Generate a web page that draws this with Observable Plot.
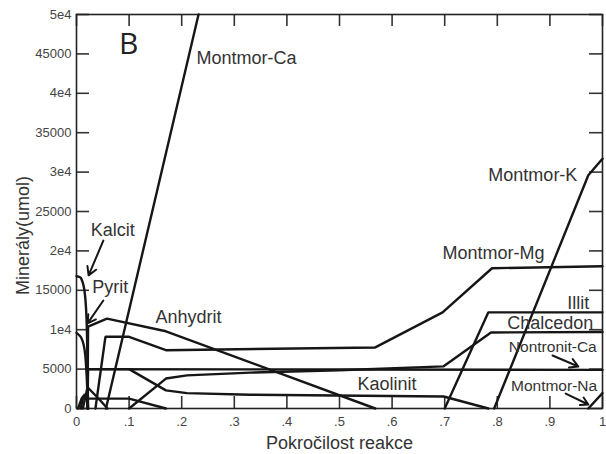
<!DOCTYPE html>
<html>
<head>
<meta charset="utf-8">
<script src="https://cdn.jsdelivr.net/npm/d3@7"></script>
<script src="https://cdn.jsdelivr.net/npm/@observablehq/plot@0.6"></script>
<style>
  html, body { margin: 0; padding: 0; background: #fff; }
  #chart svg { display: block; }
</style>
</head>
<body>
<div id="chart"></div>
<script>
// ---- axis ticks ----
const xTicks = [0, 0.1, 0.2, 0.3, 0.4, 0.5, 0.6, 0.7, 0.8, 0.9, 1];
const xTickLabels = ["0", ".1", ".2", ".3", ".4", ".5", ".6", ".7", ".8", ".9", "1"];
const yTicks = [0, 5000, 10000, 15000, 20000, 25000, 30000, 35000, 40000, 45000, 50000];
const yTickLabels = ["0", "5000", "1e4", "15000", "2e4", "25000", "3e4", "35000", "4e4", "45000", "5e4"];
const xTitle = "Pokročilost reakce";
const yTitle = "Minerály(umol)";
const panelLetter = "B";

// ---- series: [reaction progress, amount umol] ----
const montmorCa = [[0.056, 0], [0.232, 50000]];
const kalcit = [[0, 16800], [0.008, 16600], [0.015, 15000], [0.019, 11500], [0.021, 5000], [0.022, 0]];
const pyrit = [[0, 9600], [0.008, 9100], [0.015, 7600], [0.019, 4500], [0.021, 1500], [0.022, 0]];
const anhydrit = [[0.021, 0], [0.022, 10400], [0.058, 11400], [0.17, 9800], [0.568, 0]];
const montmorMg = [[0.036, 0], [0.055, 9100], [0.1, 9100], [0.17, 7400], [0.568, 7750], [0.696, 12200], [0.79, 17800], [1, 18050]];
const nontronitCa = [[0.021, 0], [0.022, 5000], [0.5, 4950], [1, 4900]];
const kaolinit = [[0.022, 5000], [0.1, 5000], [0.17, 2300], [0.21, 1950], [0.33, 1750], [0.698, 1520], [0.783, 0]];
const chalcedon = [[0.1, 0], [0.17, 3800], [0.21, 4200], [0.33, 4550], [0.5, 4850], [0.698, 5350], [0.788, 9650], [1, 9700]];
const illit = [[0.7, 0], [0.783, 12200], [1, 12200]];
const montmorK = [[0.794, 0], [0.973, 29600], [1, 31700]];
const montmorNa = [[0.973, 0], [1, 1950]];
const smallA = [[0.003, 0], [0.01, 1300], [0.016, 1800], [0.02, 1000], [0.022, 0]];
const smallB = [[0.012, 0], [0.021, 2700], [0.04, 1400], [0.059, 0]];
const smallC = [[0.008, 0], [0.012, 1250], [0.1, 1250], [0.17, 0]];

const seriesNames = ["Montmor-Ca", "Kalcit", "Pyrit", "Anhydrit", "Montmor-Mg", "Nontronit-Ca", "Kaolinit", "Chalcedon", "Illit", "Montmor-K", "Montmor-Na", "minor-a", "minor-b", "minor-c"];
const seriesPoints = [montmorCa, kalcit, pyrit, anhydrit, montmorMg, nontronitCa, kaolinit, chalcedon, illit, montmorK, montmorNa, smallA, smallB, smallC];
const curvedSeries = ["Kalcit", "Pyrit"];

// ---- annotation labels (data coordinates) ----
const labelTexts = ["Montmor-Ca", "Kalcit", "Pyrit", "Anhydrit", "Montmor-K", "Montmor-Mg", "Illit", "Chalcedon", "Nontronit-Ca", "Kaolinit", "Montmor-Na"];
const labelX = [0.228, 0.027, 0.030, 0.150, 0.783, 0.696, 0.933, 0.819, 0.822, 0.534, 0.826];
const labelY = [44400, 22600, 15350, 11550, 29570, 19670, 13320, 10790, 7740, 3050, 2790];
const letterX = [0.099];
const letterY = [46200];

// ---- arrows ----
const arrowX1 = [0.051, 0.051, 0.905, 0.930];
const arrowY1 = [21300, 13700, 6730, 1900];
const arrowX2 = [0.023, 0.021, 0.954, 0.973];
const arrowY2 = [16900, 10800, 5330, 510];

// ---- build tables ----
const rows = [];
seriesNames.forEach((name, i) => {
  seriesPoints[i].forEach(([x, y]) => rows.push({series: name, x, y}));
});
const straightRows = rows.filter(d => !curvedSeries.includes(d.series));
const curvedRows = rows.filter(d => curvedSeries.includes(d.series));
const labels = labelTexts.map((t, i) => ({t, x: labelX[i], y: labelY[i]}));
const arrows = arrowX1.map((_, i) => ({x1: arrowX1[i], y1: arrowY1[i], x2: arrowX2[i], y2: arrowY2[i]}));
const letter = [{t: panelLetter, x: letterX[0], y: letterY[0]}];

// ---- styling ----
const lineColor = "#161616";
const textColor = "#333";
const tickColor = "#333";
const smallerLabels = ["Nontronit-Ca", "Montmor-Na"];
const W = 606, H = 454, mL = 76, mR = 4, mT = 14, mB = 46;
const plotW = W - mL - mR, plotH = H - mT - mB;
const tickLenX = 12, tickLenY = 13;

const chart = Plot.plot({
  width: W,
  height: H,
  marginLeft: mL,
  marginRight: mR,
  marginTop: mT,
  marginBottom: mB,
  style: {fontFamily: "'Liberation Sans', Arial, sans-serif", fontSize: "13px", color: textColor, background: "#fff"},
  x: {domain: [0, 1]},
  y: {domain: [0, 50000]},
  marks: [
    // inward tick marks on all four sides
    Plot.tickX(xTicks, {x: d => d, insetTop: plotH - tickLenX, stroke: tickColor, strokeWidth: 1.6}),
    Plot.tickX(xTicks, {x: d => d, insetBottom: plotH - tickLenX, stroke: tickColor, strokeWidth: 1.6}),
    Plot.tickY(yTicks, {y: d => d, insetRight: plotW - tickLenY, stroke: tickColor, strokeWidth: 1.6}),
    Plot.tickY(yTicks, {y: d => d, insetLeft: plotW - tickLenY, stroke: tickColor, strokeWidth: 1.6}),
    // tick labels and titles
    Plot.axisX({anchor: "bottom", ticks: xTicks, tickFormat: d => xTickLabels[xTicks.indexOf(d)], tickSize: 0, tickPadding: 8, fill: "#444", fontSize: 13, label: xTitle, labelAnchor: "center", labelArrow: "none", labelOffset: 40}),
    Plot.axisY({anchor: "left", ticks: yTicks, tickFormat: d => yTickLabels[yTicks.indexOf(d)], tickSize: 0, tickPadding: 5, fill: "#444", fontSize: 13, label: yTitle, labelAnchor: "center", labelArrow: "none", labelOffset: 60}),
    Plot.frame({stroke: "#222", strokeWidth: 1.6}),
    // mineral curves
    Plot.line(straightRows, {x: "x", y: "y", z: "series", stroke: lineColor, strokeWidth: 2.4, strokeLinejoin: "miter"}),
    Plot.line(curvedRows, {x: "x", y: "y", z: "series", stroke: lineColor, strokeWidth: 2.4, curve: "monotone-y"}),
    // annotations
    Plot.text(labels.filter(d => !smallerLabels.includes(d.t)), {x: "x", y: "y", text: "t", textAnchor: "start", fontSize: 18, fill: textColor}),
    Plot.text(labels.filter(d => smallerLabels.includes(d.t)), {x: "x", y: "y", text: "t", textAnchor: "start", fontSize: 15.5, fill: textColor}),
    Plot.text(letter, {x: "x", y: "y", text: "t", fontSize: 30, fill: "#222", fontFamily: "'Open Sans', sans-serif"}),
    Plot.arrow(arrows, {x1: "x1", y1: "y1", x2: "x2", y2: "y2", stroke: lineColor, strokeWidth: 2, headLength: 7})
  ]
});
document.getElementById("chart").appendChild(chart);

// axis title sizes / placement
const svg = d3.select(chart);
svg.selectAll('[aria-label="x-axis label"] text, [aria-label="y-axis label"] text').attr("font-size", 18).attr("fill", textColor);
const yl = svg.select('[aria-label="y-axis label"]');
if (!yl.empty()) yl.attr("transform", ((yl.attr("transform") || "") + " translate(0,24)").trim());
</script>
</body>
</html>
